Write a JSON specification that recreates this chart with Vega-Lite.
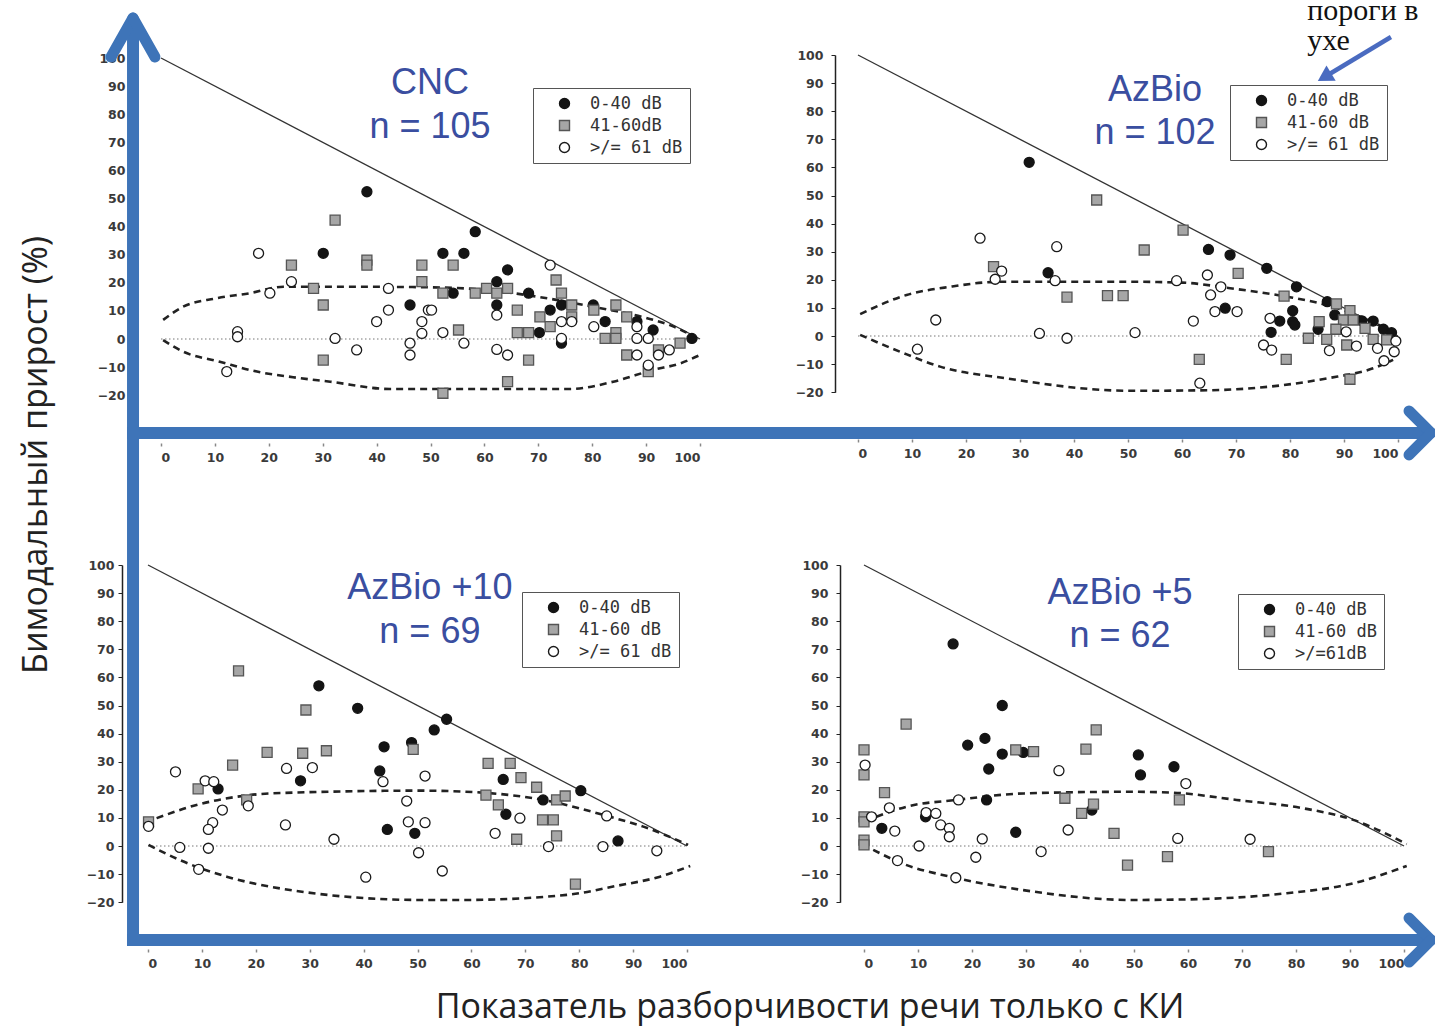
{
"$schema":"https://vega.github.io/schema/vega-lite/v6.json",
"width":1435,"height":1027,"autosize":{"type":"none"},"padding":0,"background":"white",
"config":{"view":{"stroke":null},
"axis":{"labelFont":"DejaVu Sans","labelFontWeight":"bold","labelFontSize":12.5,"labelColor":"#3a3a3a","grid":false,"labelOverlap":false},
"legend":{"padding":7,"strokeColor":"#555","fillColor":"white","symbolOffset":16,"labelOffset":17,"rowPadding":4,"labelFont":"DejaVu Sans Mono","labelFontSize":17,"labelColor":"#333","symbolSize":100,"symbolStrokeWidth":1.4,"cornerRadius":0}},
"datasets":{
"pts":[
{"p":"TL","g":"a","x":38.2,"y":52.4},{"p":"TL","g":"a","x":30.1,"y":30.5},{"p":"TL","g":"a","x":46.2,"y":12.1},{"p":"TL","g":"a","x":58.3,"y":38.2},{"p":"TL","g":"a","x":52.3,"y":30.5},{"p":"TL","g":"a","x":56.2,"y":30.5},{"p":"TL","g":"a","x":64.3,"y":24.6},{"p":"TL","g":"a","x":62.3,"y":20.4},{"p":"TL","g":"a","x":54.2,"y":16.3},{"p":"TL","g":"a","x":68.2,"y":16.3},{"p":"TL","g":"a","x":62.3,"y":12.1},{"p":"TL","g":"a","x":74.3,"y":12.1},{"p":"TL","g":"a","x":72.2,"y":10.3},{"p":"TL","g":"a","x":70.2,"y":2.3},{"p":"TL","g":"a","x":74.3,"y":-1.5},{"p":"TL","g":"a","x":80.2,"y":12.1},{"p":"TL","g":"a","x":82.4,"y":6.2},{"p":"TL","g":"a","x":88.3,"y":6.2},{"p":"TL","g":"a","x":91.3,"y":3.2},{"p":"TL","g":"a","x":98.5,"y":0.2},
{"p":"TL","g":"b","x":32.3,"y":42.3},{"p":"TL","g":"b","x":24.2,"y":26.3},{"p":"TL","g":"b","x":38.2,"y":28.1},{"p":"TL","g":"b","x":38.2,"y":26.3},{"p":"TL","g":"b","x":48.4,"y":26.3},{"p":"TL","g":"b","x":48.4,"y":20.4},{"p":"TL","g":"b","x":28.3,"y":18},{"p":"TL","g":"b","x":30.1,"y":12.1},{"p":"TL","g":"b","x":30.1,"y":-7.5},{"p":"TL","g":"b","x":54.2,"y":26.3},{"p":"TL","g":"b","x":60.4,"y":18},{"p":"TL","g":"b","x":62.3,"y":16.3},{"p":"TL","g":"b","x":64.3,"y":18},{"p":"TL","g":"b","x":58.3,"y":16.3},{"p":"TL","g":"b","x":52.3,"y":16.3},{"p":"TL","g":"b","x":66.1,"y":10.3},{"p":"TL","g":"b","x":73.3,"y":21},{"p":"TL","g":"b","x":74.3,"y":16.3},{"p":"TL","g":"b","x":76.2,"y":12.1},{"p":"TL","g":"b","x":70.3,"y":7.9},{"p":"TL","g":"b","x":76.2,"y":7.9},{"p":"TL","g":"b","x":72.2,"y":4.4},{"p":"TL","g":"b","x":66.1,"y":2.3},{"p":"TL","g":"b","x":68.2,"y":2.3},{"p":"TL","g":"b","x":55.2,"y":3.2},{"p":"TL","g":"b","x":68.2,"y":-7.5},{"p":"TL","g":"b","x":64.3,"y":-15.2},{"p":"TL","g":"b","x":52.3,"y":-19.3},{"p":"TL","g":"b","x":80.3,"y":10.3},{"p":"TL","g":"b","x":84.4,"y":12.1},{"p":"TL","g":"b","x":86.4,"y":7.9},{"p":"TL","g":"b","x":84.4,"y":2.3},{"p":"TL","g":"b","x":82.4,"y":0.2},{"p":"TL","g":"b","x":84.4,"y":0.2},{"p":"TL","g":"b","x":86.4,"y":-5.7},{"p":"TL","g":"b","x":92.3,"y":-3.9},{"p":"TL","g":"b","x":96.3,"y":-1.5},{"p":"TL","g":"b","x":90.4,"y":-11.6},
{"p":"TL","g":"c","x":18.1,"y":30.5},{"p":"TL","g":"c","x":24.2,"y":20.4},{"p":"TL","g":"c","x":20.2,"y":16.3},{"p":"TL","g":"c","x":42.2,"y":18},{"p":"TL","g":"c","x":42.2,"y":10.3},{"p":"TL","g":"c","x":40,"y":6.2},{"p":"TL","g":"c","x":49.6,"y":10.3},{"p":"TL","g":"c","x":48.4,"y":6.2},{"p":"TL","g":"c","x":48.4,"y":2},{"p":"TL","g":"c","x":46.2,"y":-1.5},{"p":"TL","g":"c","x":46.2,"y":-5.7},{"p":"TL","g":"c","x":14.2,"y":2.6},{"p":"TL","g":"c","x":14.2,"y":0.8},{"p":"TL","g":"c","x":32.3,"y":0.2},{"p":"TL","g":"c","x":36.3,"y":-3.9},{"p":"TL","g":"c","x":12.2,"y":-11.6},{"p":"TL","g":"c","x":72.2,"y":26.3},{"p":"TL","g":"c","x":62.3,"y":8.5},{"p":"TL","g":"c","x":74.3,"y":6.2},{"p":"TL","g":"c","x":76.2,"y":6.2},{"p":"TL","g":"c","x":74.3,"y":0.2},{"p":"TL","g":"c","x":50.2,"y":10.3},{"p":"TL","g":"c","x":52.3,"y":2.3},{"p":"TL","g":"c","x":56.2,"y":-1.5},{"p":"TL","g":"c","x":62.3,"y":-3.7},{"p":"TL","g":"c","x":64.3,"y":-5.7},{"p":"TL","g":"c","x":80.3,"y":4.4},{"p":"TL","g":"c","x":88.3,"y":4.4},{"p":"TL","g":"c","x":88.3,"y":0.2},{"p":"TL","g":"c","x":90.4,"y":0.2},{"p":"TL","g":"c","x":88.3,"y":-5.7},{"p":"TL","g":"c","x":92.3,"y":-5.7},{"p":"TL","g":"c","x":94.3,"y":-3.9},{"p":"TL","g":"c","x":90.4,"y":-9.3},
{"p":"TR","g":"a","x":31.7,"y":61.8},{"p":"TR","g":"a","x":35.2,"y":22.5},{"p":"TR","g":"a","x":64.9,"y":30.8},{"p":"TR","g":"a","x":68.9,"y":28.8},{"p":"TR","g":"a","x":75.7,"y":24.1},{"p":"TR","g":"a","x":81.2,"y":17.5},{"p":"TR","g":"a","x":68,"y":9.9},{"p":"TR","g":"a","x":80.5,"y":9},{"p":"TR","g":"a","x":80.5,"y":5.1},{"p":"TR","g":"a","x":78.1,"y":5.3},{"p":"TR","g":"a","x":80.9,"y":3.9},{"p":"TR","g":"a","x":76.5,"y":1.3},{"p":"TR","g":"a","x":86.9,"y":12.2},{"p":"TR","g":"a","x":88.3,"y":7.5},{"p":"TR","g":"a","x":93.3,"y":5.4},{"p":"TR","g":"a","x":95.4,"y":5.3},{"p":"TR","g":"a","x":85.2,"y":2.4},{"p":"TR","g":"a","x":97.3,"y":2.4},{"p":"TR","g":"a","x":98.8,"y":1.2},
{"p":"TR","g":"b","x":44.2,"y":48.4},{"p":"TR","g":"b","x":25.1,"y":24.7},{"p":"TR","g":"b","x":38.7,"y":13.8},{"p":"TR","g":"b","x":46.2,"y":14.4},{"p":"TR","g":"b","x":49.1,"y":14.4},{"p":"TR","g":"b","x":60.2,"y":37.7},{"p":"TR","g":"b","x":53,"y":30.6},{"p":"TR","g":"b","x":70.4,"y":22.3},{"p":"TR","g":"b","x":78.9,"y":14.2},{"p":"TR","g":"b","x":63.2,"y":-8.3},{"p":"TR","g":"b","x":79.3,"y":-8.3},{"p":"TR","g":"b","x":91.1,"y":-15.4},{"p":"TR","g":"b","x":88.6,"y":11.4},{"p":"TR","g":"b","x":91.1,"y":9},{"p":"TR","g":"b","x":89.9,"y":5.7},{"p":"TR","g":"b","x":91.7,"y":5.7},{"p":"TR","g":"b","x":85.4,"y":5.1},{"p":"TR","g":"b","x":88.5,"y":2.4},{"p":"TR","g":"b","x":93.9,"y":2.7},{"p":"TR","g":"b","x":83.4,"y":-0.8},{"p":"TR","g":"b","x":86.8,"y":-1.2},{"p":"TR","g":"b","x":95.4,"y":-1.2},{"p":"TR","g":"b","x":97.9,"y":-1.4},{"p":"TR","g":"b","x":90.5,"y":-3.2},
{"p":"TR","g":"c","x":22.6,"y":34.8},{"p":"TR","g":"c","x":36.8,"y":31.8},{"p":"TR","g":"c","x":26.6,"y":23.1},{"p":"TR","g":"c","x":25.4,"y":20.2},{"p":"TR","g":"c","x":36.5,"y":19.7},{"p":"TR","g":"c","x":14.4,"y":5.7},{"p":"TR","g":"c","x":33.6,"y":0.9},{"p":"TR","g":"c","x":38.7,"y":-0.8},{"p":"TR","g":"c","x":11,"y":-4.7},{"p":"TR","g":"c","x":64.7,"y":21.7},{"p":"TR","g":"c","x":59,"y":19.7},{"p":"TR","g":"c","x":67.2,"y":17.5},{"p":"TR","g":"c","x":65.3,"y":14.6},{"p":"TR","g":"c","x":66.1,"y":8.7},{"p":"TR","g":"c","x":70.2,"y":8.7},{"p":"TR","g":"c","x":62.1,"y":5.3},{"p":"TR","g":"c","x":76.3,"y":6.3},{"p":"TR","g":"c","x":51.3,"y":1.2},{"p":"TR","g":"c","x":75.1,"y":-3.2},{"p":"TR","g":"c","x":76.6,"y":-5},{"p":"TR","g":"c","x":63.3,"y":-16.8},{"p":"TR","g":"c","x":90.4,"y":1.5},{"p":"TR","g":"c","x":99.6,"y":-1.8},{"p":"TR","g":"c","x":92.3,"y":-3.6},{"p":"TR","g":"c","x":87.3,"y":-5.2},{"p":"TR","g":"c","x":96.2,"y":-4.4},{"p":"TR","g":"c","x":99.3,"y":-5.6},{"p":"TR","g":"c","x":97.4,"y":-8.8},
{"p":"BL","g":"a","x":31.7,"y":57},{"p":"BL","g":"a","x":38.9,"y":49},{"p":"BL","g":"a","x":43.8,"y":35.3},{"p":"BL","g":"a","x":48.9,"y":36.8},{"p":"BL","g":"a","x":13,"y":20.3},{"p":"BL","g":"a","x":28.3,"y":23.2},{"p":"BL","g":"a","x":43,"y":26.7},{"p":"BL","g":"a","x":44.4,"y":5.9},{"p":"BL","g":"a","x":49.5,"y":4.5},{"p":"BL","g":"a","x":55.4,"y":45.1},{"p":"BL","g":"a","x":53.1,"y":41.3},{"p":"BL","g":"a","x":65.9,"y":23.7},{"p":"BL","g":"a","x":73.3,"y":16.4},{"p":"BL","g":"a","x":80.3,"y":19.7},{"p":"BL","g":"a","x":66.4,"y":11.3},{"p":"BL","g":"a","x":87.2,"y":1.8},
{"p":"BL","g":"b","x":16.8,"y":62.3},{"p":"BL","g":"b","x":29.3,"y":48.4},{"p":"BL","g":"b","x":22.1,"y":33.3},{"p":"BL","g":"b","x":28.7,"y":33},{"p":"BL","g":"b","x":33.1,"y":33.9},{"p":"BL","g":"b","x":49.2,"y":34.4},{"p":"BL","g":"b","x":15.7,"y":28.8},{"p":"BL","g":"b","x":9.3,"y":20.3},{"p":"BL","g":"b","x":18.3,"y":16.4},{"p":"BL","g":"b","x":0.1,"y":8.6},{"p":"BL","g":"b","x":63.1,"y":29.4},{"p":"BL","g":"b","x":67.2,"y":29.4},{"p":"BL","g":"b","x":69.2,"y":24.3},{"p":"BL","g":"b","x":72.1,"y":20.9},{"p":"BL","g":"b","x":62.7,"y":18.1},{"p":"BL","g":"b","x":75.8,"y":16.4},{"p":"BL","g":"b","x":77.4,"y":17.8},{"p":"BL","g":"b","x":65,"y":14.6},{"p":"BL","g":"b","x":73.2,"y":9.3},{"p":"BL","g":"b","x":75.2,"y":9.3},{"p":"BL","g":"b","x":68.4,"y":2.4},{"p":"BL","g":"b","x":75.8,"y":3.6},{"p":"BL","g":"b","x":79.3,"y":-13.6},
{"p":"BL","g":"c","x":5.1,"y":26.4},{"p":"BL","g":"c","x":10.6,"y":23.2},{"p":"BL","g":"c","x":12.2,"y":22.9},{"p":"BL","g":"c","x":25.7,"y":27.6},{"p":"BL","g":"c","x":30.5,"y":27.9},{"p":"BL","g":"c","x":43.6,"y":22.9},{"p":"BL","g":"c","x":18.6,"y":14.3},{"p":"BL","g":"c","x":13.8,"y":12.8},{"p":"BL","g":"c","x":12,"y":8.3},{"p":"BL","g":"c","x":11.2,"y":5.9},{"p":"BL","g":"c","x":0.1,"y":7},{"p":"BL","g":"c","x":25.5,"y":7.5},{"p":"BL","g":"c","x":34.5,"y":2.4},{"p":"BL","g":"c","x":48,"y":16},{"p":"BL","g":"c","x":48.3,"y":8.6},{"p":"BL","g":"c","x":5.9,"y":-0.5},{"p":"BL","g":"c","x":11.2,"y":-0.8},{"p":"BL","g":"c","x":9.4,"y":-8.3},{"p":"BL","g":"c","x":40.4,"y":-11.1},{"p":"BL","g":"c","x":50.2,"y":-2.4},{"p":"BL","g":"c","x":51.4,"y":24.9},{"p":"BL","g":"c","x":69,"y":9.9},{"p":"BL","g":"c","x":85.1,"y":10.7},{"p":"BL","g":"c","x":64.4,"y":4.5},{"p":"BL","g":"c","x":74.3,"y":-0.2},{"p":"BL","g":"c","x":84.4,"y":-0.2},{"p":"BL","g":"c","x":94.4,"y":-1.7},{"p":"BL","g":"c","x":51.4,"y":8.3},{"p":"BL","g":"c","x":54.6,"y":-8.9},
{"p":"BR","g":"a","x":16.5,"y":71.9},{"p":"BR","g":"a","x":25.6,"y":50},{"p":"BR","g":"a","x":19.2,"y":35.9},{"p":"BR","g":"a","x":22.4,"y":38.3},{"p":"BR","g":"a","x":25.6,"y":32.7},{"p":"BR","g":"a","x":29.5,"y":33.3},{"p":"BR","g":"a","x":23.1,"y":27.4},{"p":"BR","g":"a","x":22.7,"y":16.4},{"p":"BR","g":"a","x":42.2,"y":12.8},{"p":"BR","g":"a","x":11.4,"y":10.4},{"p":"BR","g":"a","x":3.3,"y":6.3},{"p":"BR","g":"a","x":28.1,"y":4.9},{"p":"BR","g":"a","x":50.8,"y":32.4},{"p":"BR","g":"a","x":51.2,"y":25.3},{"p":"BR","g":"a","x":57.4,"y":28.2},
{"p":"BR","g":"b","x":7.8,"y":43.4},{"p":"BR","g":"b","x":28.1,"y":34.2},{"p":"BR","g":"b","x":31.4,"y":33.6},{"p":"BR","g":"b","x":43,"y":41.3},{"p":"BR","g":"b","x":41.1,"y":34.5},{"p":"BR","g":"b","x":0,"y":34.2},{"p":"BR","g":"b","x":0,"y":25.3},{"p":"BR","g":"b","x":3.8,"y":19},{"p":"BR","g":"b","x":37.2,"y":17},{"p":"BR","g":"b","x":42.5,"y":14.9},{"p":"BR","g":"b","x":40.3,"y":11.6},{"p":"BR","g":"b","x":0,"y":10.4},{"p":"BR","g":"b","x":0,"y":8.6},{"p":"BR","g":"b","x":0,"y":2.1},{"p":"BR","g":"b","x":0,"y":0.4},{"p":"BR","g":"b","x":46.3,"y":4.5},{"p":"BR","g":"b","x":48.8,"y":-6.8},{"p":"BR","g":"b","x":58.4,"y":16.4},{"p":"BR","g":"b","x":74.9,"y":-2},{"p":"BR","g":"b","x":56.2,"y":-3.8},
{"p":"BR","g":"c","x":36.1,"y":26.8},{"p":"BR","g":"c","x":0.2,"y":28.8},{"p":"BR","g":"c","x":17.5,"y":16.4},{"p":"BR","g":"c","x":4.7,"y":13.6},{"p":"BR","g":"c","x":1.4,"y":10.4},{"p":"BR","g":"c","x":11.5,"y":11.9},{"p":"BR","g":"c","x":13.3,"y":11.6},{"p":"BR","g":"c","x":14.2,"y":7.5},{"p":"BR","g":"c","x":15.8,"y":6.3},{"p":"BR","g":"c","x":15.8,"y":3.3},{"p":"BR","g":"c","x":5.7,"y":5.3},{"p":"BR","g":"c","x":10.2,"y":0},{"p":"BR","g":"c","x":21.9,"y":2.5},{"p":"BR","g":"c","x":37.8,"y":5.7},{"p":"BR","g":"c","x":20.7,"y":-4},{"p":"BR","g":"c","x":32.8,"y":-2},{"p":"BR","g":"c","x":6.2,"y":-5.2},{"p":"BR","g":"c","x":17,"y":-11.3},{"p":"BR","g":"c","x":59.6,"y":22.2},{"p":"BR","g":"c","x":58.1,"y":2.7},{"p":"BR","g":"c","x":71.5,"y":2.4}
],
"curves":[
{"p":"TL","part":"u","x":0.4,"y":6.8},{"p":"TL","part":"u","x":4.1,"y":11.5},{"p":"TL","part":"u","x":10.3,"y":14.5},{"p":"TL","part":"u","x":16.5,"y":16.3},{"p":"TL","part":"u","x":22.7,"y":18.6},{"p":"TL","part":"u","x":35,"y":18.6},{"p":"TL","part":"u","x":50,"y":18.4},{"p":"TL","part":"u","x":60,"y":17.5},{"p":"TL","part":"u","x":70,"y":15},{"p":"TL","part":"u","x":80,"y":11.5},{"p":"TL","part":"u","x":90,"y":7.5},{"p":"TL","part":"u","x":95,"y":4.5},{"p":"TL","part":"u","x":99,"y":0.8},
{"p":"TL","part":"l","x":0.4,"y":-0.4},{"p":"TL","part":"l","x":4.1,"y":-4.5},{"p":"TL","part":"l","x":10.9,"y":-8.1},{"p":"TL","part":"l","x":17.8,"y":-11.6},{"p":"TL","part":"l","x":24.5,"y":-13.6},{"p":"TL","part":"l","x":31.4,"y":-15.2},{"p":"TL","part":"l","x":42.5,"y":-17.8},{"p":"TL","part":"l","x":60,"y":-17.8},{"p":"TL","part":"l","x":75.9,"y":-17.8},{"p":"TL","part":"l","x":83.9,"y":-15.2},{"p":"TL","part":"l","x":91.3,"y":-11},{"p":"TL","part":"l","x":96.3,"y":-8.7},{"p":"TL","part":"l","x":100,"y":-5.7},
{"p":"TR","part":"u","x":0.4,"y":7.8},{"p":"TR","part":"u","x":9,"y":14.6},{"p":"TR","part":"u","x":17,"y":17.5},{"p":"TR","part":"u","x":26.3,"y":19.3},{"p":"TR","part":"u","x":50.4,"y":19.3},{"p":"TR","part":"u","x":60,"y":19},{"p":"TR","part":"u","x":68.9,"y":17},{"p":"TR","part":"u","x":79.4,"y":14},{"p":"TR","part":"u","x":86.8,"y":11},{"p":"TR","part":"u","x":93,"y":6.9},{"p":"TR","part":"u","x":99.1,"y":1.5},
{"p":"TR","part":"l","x":0.4,"y":0.4},{"p":"TR","part":"l","x":7.8,"y":-5.6},{"p":"TR","part":"l","x":15.2,"y":-10.9},{"p":"TR","part":"l","x":27.5,"y":-15.1},{"p":"TR","part":"l","x":50.4,"y":-19.5},{"p":"TR","part":"l","x":65,"y":-19.3},{"p":"TR","part":"l","x":76.3,"y":-18},{"p":"TR","part":"l","x":86.8,"y":-15.1},{"p":"TR","part":"l","x":95.4,"y":-11.5},{"p":"TR","part":"l","x":99.1,"y":-8.5},
{"p":"BL","part":"u","x":1.6,"y":9.9},{"p":"BL","part":"u","x":9,"y":14.6},{"p":"BL","part":"u","x":16.4,"y":17.5},{"p":"BL","part":"u","x":22.6,"y":18.7},{"p":"BL","part":"u","x":50.5,"y":19.7},{"p":"BL","part":"u","x":62,"y":19},{"p":"BL","part":"u","x":73.3,"y":16.4},{"p":"BL","part":"u","x":85.7,"y":10.4},{"p":"BL","part":"u","x":91.9,"y":6.9},{"p":"BL","part":"u","x":100.2,"y":0.4},
{"p":"BL","part":"l","x":0.1,"y":0.4},{"p":"BL","part":"l","x":5.9,"y":-5},{"p":"BL","part":"l","x":14.6,"y":-10.9},{"p":"BL","part":"l","x":24.5,"y":-15.1},{"p":"BL","part":"l","x":50.5,"y":-19.2},{"p":"BL","part":"l","x":58.6,"y":-19.2},{"p":"BL","part":"l","x":77.7,"y":-17.4},{"p":"BL","part":"l","x":86.9,"y":-14.2},{"p":"BL","part":"l","x":95,"y":-10.9},{"p":"BL","part":"l","x":100.6,"y":-7.1},
{"p":"BR","part":"u","x":2.3,"y":10.4},{"p":"BR","part":"u","x":7.9,"y":14},{"p":"BR","part":"u","x":17.2,"y":16.4},{"p":"BR","part":"u","x":29.5,"y":18.7},{"p":"BR","part":"u","x":49.3,"y":19.3},{"p":"BR","part":"u","x":57,"y":19},{"p":"BR","part":"u","x":69,"y":16.4},{"p":"BR","part":"u","x":81.4,"y":13.4},{"p":"BR","part":"u","x":90.6,"y":9.3},{"p":"BR","part":"u","x":100.5,"y":0.7},
{"p":"BR","part":"l","x":1.7,"y":-1.4},{"p":"BR","part":"l","x":7.9,"y":-6.8},{"p":"BR","part":"l","x":15.9,"y":-10.9},{"p":"BR","part":"l","x":29.5,"y":-15.7},{"p":"BR","part":"l","x":49.3,"y":-19.2},{"p":"BR","part":"l","x":60,"y":-19},{"p":"BR","part":"l","x":78.3,"y":-16.8},{"p":"BR","part":"l","x":90.6,"y":-13.3},{"p":"BR","part":"l","x":100.5,"y":-7.1}
]
},
"layer":[
{"layer":[
 {"data":{"values":[{}]},"mark":{"type":"rule","strokeDash":[1.5,2.5],"stroke":"#777","strokeWidth":1},"encoding":{"x":{"datum":0,"type":"quantitative","title":null},"x2":{"datum":100},"y":{"datum":0,"type":"quantitative","title":null}}},
 {"data":{"values":[{}]},"mark":{"type":"rule","stroke":"#333","strokeWidth":1.3},"encoding":{"x":{"datum":0,"type":"quantitative","title":null},"x2":{"datum":100},"y":{"datum":100,"type":"quantitative","title":null},"y2":{"datum":0}}},
 {"data":{"name":"curves"},"transform":[{"filter":"datum.p=='TL'"}],"mark":{"type":"line","interpolate":"monotone","strokeDash":[7,5],"stroke":"#222","strokeWidth":2.6},"encoding":{"x":{"field":"x","type":"quantitative","title":null},"y":{"field":"y","type":"quantitative","title":null},"detail":{"field":"part"}}},
 {"data":{"name":"pts"},"transform":[{"filter":"datum.p=='TL'"}],"mark":{"type":"point","filled":true,"size":100,"strokeWidth":1.3,"opacity":1},
  "encoding":{
   "x":{"field":"x","type":"quantitative","title":null,"scale":{"domain":[0,100],"range":[161,700],"nice":false,"zero":false},"axis":{"orient":"bottom","offset":-584,"values":[0,10,20,30,40,50,60,70,80,90,100],"domain":false,"ticks":true,"tickSize":3,"tickColor":"#888","tickWidth":1.5,"labelPadding":5}},
   "y":{"field":"y","type":"quantitative","title":null,"scale":{"domain":[-20,100],"range":[395.2,58],"nice":false,"zero":false},"axis":{"orient":"left","offset":-131,"values":[-20,-10,0,10,20,30,40,50,60,70,80,90,100],"domain":false,"ticks":false,"labelPadding":6}},
   "shape":{"field":"g","type":"nominal","scale":{"domain":["a","b","c"],"range":["circle","square","circle"]},"legend":{"orient":"none","legendX":533,"legendY":88,"title":null,"labelExpr":"datum.label=='a'?'0-40 dB':datum.label=='b'?'41-60dB':'>/= 61 dB\u00a0\u00a0\u00a0\u00a0'"}},
   "fill":{"field":"g","type":"nominal","scale":{"domain":["a","b","c"],"range":["#141414","#a6a6a6","#ffffff"]},"legend":{"orient":"none","legendX":533,"legendY":88,"title":null,"labelExpr":"datum.label=='a'?'0-40 dB':datum.label=='b'?'41-60dB':'>/= 61 dB\u00a0\u00a0\u00a0\u00a0'"}},
   "stroke":{"field":"g","type":"nominal","scale":{"domain":["a","b","c"],"range":["#141414","#555555","#1a1a1a"]},"legend":{"orient":"none","legendX":533,"legendY":88,"title":null,"labelExpr":"datum.label=='a'?'0-40 dB':datum.label=='b'?'41-60dB':'>/= 61 dB\u00a0\u00a0\u00a0\u00a0'"}}}},
 {"data":{"values":[{}]},"mark":{"type":"text","text":"CNC","font":"Liberation Sans","fontSize":36,"fill":"#3a4ea0","align":"center","baseline":"middle"},"encoding":{"x":{"datum":49.9,"type":"quantitative","title":null},"y":{"datum":91.1,"type":"quantitative","title":null}}},
 {"data":{"values":[{}]},"mark":{"type":"text","text":"n = 105","font":"Liberation Sans","fontSize":36,"fill":"#3a4ea0","align":"center","baseline":"middle"},"encoding":{"x":{"datum":49.9,"type":"quantitative","title":null},"y":{"datum":75.4,"type":"quantitative","title":null}}}
]},
{"layer":[
 {"data":{"values":[{}]},"mark":{"type":"rule","strokeDash":[1.5,2.5],"stroke":"#777","strokeWidth":1},"encoding":{"x":{"datum":0,"type":"quantitative","title":null},"x2":{"datum":100},"y":{"datum":0,"type":"quantitative","title":null}}},
 {"data":{"values":[{}]},"mark":{"type":"rule","stroke":"#333","strokeWidth":1.3},"encoding":{"x":{"datum":0,"type":"quantitative","title":null},"x2":{"datum":100},"y":{"datum":100,"type":"quantitative","title":null},"y2":{"datum":0}}},
 {"data":{"name":"curves"},"transform":[{"filter":"datum.p=='TR'"}],"mark":{"type":"line","interpolate":"monotone","strokeDash":[7,5],"stroke":"#222","strokeWidth":2.6},"encoding":{"x":{"field":"x","type":"quantitative","title":null},"y":{"field":"y","type":"quantitative","title":null},"detail":{"field":"part"}}},
 {"data":{"name":"pts"},"transform":[{"filter":"datum.p=='TR'"}],"mark":{"type":"point","filled":true,"size":100,"strokeWidth":1.3,"opacity":1},
  "encoding":{
   "x":{"field":"x","type":"quantitative","title":null,"scale":{"domain":[0,100],"range":[858,1398],"nice":false,"zero":false},"axis":{"orient":"bottom","offset":-588,"values":[0,10,20,30,40,50,60,70,80,90,100],"domain":false,"ticks":true,"tickSize":3,"tickColor":"#888","tickWidth":1.5,"labelPadding":5}},
   "y":{"field":"y","type":"quantitative","title":null,"scale":{"domain":[-20,100],"range":[392.2,55],"nice":false,"zero":false},"axis":{"orient":"left","offset":-835,"values":[-20,-10,0,10,20,30,40,50,60,70,80,90,100],"domain":true,"domainColor":"#222","domainWidth":1.5,"ticks":true,"tickSize":4,"tickColor":"#222","labelPadding":8}},
   "shape":{"field":"g","type":"nominal","scale":{"domain":["a","b","c"],"range":["circle","square","circle"]},"legend":{"orient":"none","legendX":1230,"legendY":85,"title":null,"labelExpr":"datum.label=='a'?'0-40 dB':datum.label=='b'?'41-60 dB':'>/= 61 dB\u00a0\u00a0\u00a0\u00a0'"}},
   "fill":{"field":"g","type":"nominal","scale":{"domain":["a","b","c"],"range":["#141414","#a6a6a6","#ffffff"]},"legend":{"orient":"none","legendX":1230,"legendY":85,"title":null,"labelExpr":"datum.label=='a'?'0-40 dB':datum.label=='b'?'41-60 dB':'>/= 61 dB\u00a0\u00a0\u00a0\u00a0'"}},
   "stroke":{"field":"g","type":"nominal","scale":{"domain":["a","b","c"],"range":["#141414","#555555","#1a1a1a"]},"legend":{"orient":"none","legendX":1230,"legendY":85,"title":null,"labelExpr":"datum.label=='a'?'0-40 dB':datum.label=='b'?'41-60 dB':'>/= 61 dB\u00a0\u00a0\u00a0\u00a0'"}}}},
 {"data":{"values":[{}]},"mark":{"type":"text","text":"AzBio","font":"Liberation Sans","fontSize":36,"fill":"#3a4ea0","align":"center","baseline":"middle"},"encoding":{"x":{"datum":55,"type":"quantitative","title":null},"y":{"datum":87.5,"type":"quantitative","title":null}}},
 {"data":{"values":[{}]},"mark":{"type":"text","text":"n = 102","font":"Liberation Sans","fontSize":36,"fill":"#3a4ea0","align":"center","baseline":"middle"},"encoding":{"x":{"datum":55,"type":"quantitative","title":null},"y":{"datum":72.2,"type":"quantitative","title":null}}}
]},
{"layer":[
 {"data":{"values":[{}]},"mark":{"type":"rule","strokeDash":[1.5,2.5],"stroke":"#777","strokeWidth":1},"encoding":{"x":{"datum":0,"type":"quantitative","title":null},"x2":{"datum":100},"y":{"datum":0,"type":"quantitative","title":null}}},
 {"data":{"values":[{}]},"mark":{"type":"rule","stroke":"#333","strokeWidth":1.3},"encoding":{"x":{"datum":0,"type":"quantitative","title":null},"x2":{"datum":100},"y":{"datum":100,"type":"quantitative","title":null},"y2":{"datum":0}}},
 {"data":{"name":"curves"},"transform":[{"filter":"datum.p=='BL'"}],"mark":{"type":"line","interpolate":"monotone","strokeDash":[7,5],"stroke":"#222","strokeWidth":2.6},"encoding":{"x":{"field":"x","type":"quantitative","title":null},"y":{"field":"y","type":"quantitative","title":null},"detail":{"field":"part"}}},
 {"data":{"name":"pts"},"transform":[{"filter":"datum.p=='BL'"}],"mark":{"type":"point","filled":true,"size":100,"strokeWidth":1.3,"opacity":1},
  "encoding":{
   "x":{"field":"x","type":"quantitative","title":null,"scale":{"domain":[0,100],"range":[148,687],"nice":false,"zero":false},"axis":{"orient":"bottom","offset":-78,"values":[0,10,20,30,40,50,60,70,80,90,100],"domain":false,"ticks":true,"tickSize":3,"tickColor":"#888","tickWidth":1.5,"labelPadding":5}},
   "y":{"field":"y","type":"quantitative","title":null,"scale":{"domain":[-20,100],"range":[902.2,565],"nice":false,"zero":false},"axis":{"orient":"left","offset":-122,"values":[-20,-10,0,10,20,30,40,50,60,70,80,90,100],"domain":true,"domainColor":"#222","domainWidth":1.5,"ticks":true,"tickSize":4,"tickColor":"#222","labelPadding":4}},
   "shape":{"field":"g","type":"nominal","scale":{"domain":["a","b","c"],"range":["circle","square","circle"]},"legend":{"orient":"none","legendX":522,"legendY":592,"title":null,"labelExpr":"datum.label=='a'?'0-40 dB':datum.label=='b'?'41-60 dB':'>/= 61 dB\u00a0\u00a0\u00a0'"}},
   "fill":{"field":"g","type":"nominal","scale":{"domain":["a","b","c"],"range":["#141414","#a6a6a6","#ffffff"]},"legend":{"orient":"none","legendX":522,"legendY":592,"title":null,"labelExpr":"datum.label=='a'?'0-40 dB':datum.label=='b'?'41-60 dB':'>/= 61 dB\u00a0\u00a0\u00a0'"}},
   "stroke":{"field":"g","type":"nominal","scale":{"domain":["a","b","c"],"range":["#141414","#555555","#1a1a1a"]},"legend":{"orient":"none","legendX":522,"legendY":592,"title":null,"labelExpr":"datum.label=='a'?'0-40 dB':datum.label=='b'?'41-60 dB':'>/= 61 dB\u00a0\u00a0\u00a0'"}}}},
 {"data":{"values":[{}]},"mark":{"type":"text","text":"AzBio +10","font":"Liberation Sans","fontSize":36,"fill":"#3a4ea0","align":"center","baseline":"middle"},"encoding":{"x":{"datum":52.3,"type":"quantitative","title":null},"y":{"datum":91.8,"type":"quantitative","title":null}}},
 {"data":{"values":[{}]},"mark":{"type":"text","text":"n = 69","font":"Liberation Sans","fontSize":36,"fill":"#3a4ea0","align":"center","baseline":"middle"},"encoding":{"x":{"datum":52.3,"type":"quantitative","title":null},"y":{"datum":76.2,"type":"quantitative","title":null}}}
]},
{"layer":[
 {"data":{"values":[{}]},"mark":{"type":"rule","strokeDash":[1.5,2.5],"stroke":"#777","strokeWidth":1},"encoding":{"x":{"datum":0,"type":"quantitative","title":null},"x2":{"datum":100},"y":{"datum":0,"type":"quantitative","title":null}}},
 {"data":{"values":[{}]},"mark":{"type":"rule","stroke":"#333","strokeWidth":1.3},"encoding":{"x":{"datum":0,"type":"quantitative","title":null},"x2":{"datum":100},"y":{"datum":100,"type":"quantitative","title":null},"y2":{"datum":0}}},
 {"data":{"name":"curves"},"transform":[{"filter":"datum.p=='BR'"}],"mark":{"type":"line","interpolate":"monotone","strokeDash":[7,5],"stroke":"#222","strokeWidth":2.6},"encoding":{"x":{"field":"x","type":"quantitative","title":null},"y":{"field":"y","type":"quantitative","title":null},"detail":{"field":"part"}}},
 {"data":{"name":"pts"},"transform":[{"filter":"datum.p=='BR'"}],"mark":{"type":"point","filled":true,"size":100,"strokeWidth":1.3,"opacity":1},
  "encoding":{
   "x":{"field":"x","type":"quantitative","title":null,"scale":{"domain":[0,100],"range":[864,1404],"nice":false,"zero":false},"axis":{"orient":"bottom","offset":-78,"values":[0,10,20,30,40,50,60,70,80,90,100],"domain":false,"ticks":true,"tickSize":3,"tickColor":"#888","tickWidth":1.5,"labelPadding":5}},
   "y":{"field":"y","type":"quantitative","title":null,"scale":{"domain":[-20,100],"range":[902.2,565],"nice":false,"zero":false},"axis":{"orient":"left","offset":-840,"values":[-20,-10,0,10,20,30,40,50,60,70,80,90,100],"domain":true,"domainColor":"#222","domainWidth":1.5,"ticks":true,"tickSize":4,"tickColor":"#222","labelPadding":8}},
   "shape":{"field":"g","type":"nominal","scale":{"domain":["a","b","c"],"range":["circle","square","circle"]},"legend":{"orient":"none","legendX":1238,"legendY":594,"title":null,"labelExpr":"datum.label=='a'?'0-40 dB':datum.label=='b'?'41-60 dB':'>/=61dB\u00a0\u00a0\u00a0\u00a0\u00a0\u00a0\u00a0'"}},
   "fill":{"field":"g","type":"nominal","scale":{"domain":["a","b","c"],"range":["#141414","#a6a6a6","#ffffff"]},"legend":{"orient":"none","legendX":1238,"legendY":594,"title":null,"labelExpr":"datum.label=='a'?'0-40 dB':datum.label=='b'?'41-60 dB':'>/=61dB\u00a0\u00a0\u00a0\u00a0\u00a0\u00a0\u00a0'"}},
   "stroke":{"field":"g","type":"nominal","scale":{"domain":["a","b","c"],"range":["#141414","#555555","#1a1a1a"]},"legend":{"orient":"none","legendX":1238,"legendY":594,"title":null,"labelExpr":"datum.label=='a'?'0-40 dB':datum.label=='b'?'41-60 dB':'>/=61dB\u00a0\u00a0\u00a0\u00a0\u00a0\u00a0\u00a0'"}}}},
 {"data":{"values":[{}]},"mark":{"type":"text","text":"AzBio +5","font":"Liberation Sans","fontSize":36,"fill":"#3a4ea0","align":"center","baseline":"middle"},"encoding":{"x":{"datum":47.4,"type":"quantitative","title":null},"y":{"datum":90,"type":"quantitative","title":null}}},
 {"data":{"values":[{}]},"mark":{"type":"text","text":"n = 62","font":"Liberation Sans","fontSize":36,"fill":"#3a4ea0","align":"center","baseline":"middle"},"encoding":{"x":{"datum":47.4,"type":"quantitative","title":null},"y":{"datum":74.7,"type":"quantitative","title":null}}}
]},
{"data":{"values":[{}]},"layer":[
 {"mark":{"type":"rule","stroke":"#3e74b8","strokeWidth":12},"encoding":{"x":{"datum":9.27,"type":"quantitative","scale":{"domain":[0,100],"range":[0,1435],"nice":false,"zero":false},"axis":null},"y":{"datum":7.89,"type":"quantitative","scale":{"domain":[0,100],"range":[1027,0],"nice":false,"zero":false},"axis":null},"y2":{"datum":97.56}}},
 {"mark":{"type":"rule","stroke":"#3e74b8","strokeWidth":12},"encoding":{"x":{"datum":8.85,"type":"quantitative","axis":null},"x2":{"datum":99.44},"y":{"datum":57.84,"type":"quantitative","axis":null}}},
 {"mark":{"type":"rule","stroke":"#3e74b8","strokeWidth":12},"encoding":{"x":{"datum":8.85,"type":"quantitative","axis":null},"x2":{"datum":99.44},"y":{"datum":8.47,"type":"quantitative","axis":null}}},
 {"mark":{"type":"rule","stroke":"#3e74b8","strokeWidth":11,"strokeCap":"round"},"encoding":{"x":{"datum":9.268,"type":"quantitative","axis":null},"y":{"datum":98.25,"type":"quantitative","axis":null},"x2":{"datum":7.735},"y2":{"datum":94.45}}},
 {"mark":{"type":"rule","stroke":"#3e74b8","strokeWidth":11,"strokeCap":"round"},"encoding":{"x":{"datum":9.268,"type":"quantitative","axis":null},"y":{"datum":98.25,"type":"quantitative","axis":null},"x2":{"datum":10.8},"y2":{"datum":94.45}}},
 {"mark":{"type":"rule","stroke":"#3e74b8","strokeWidth":11,"strokeCap":"round"},"encoding":{"x":{"datum":99.72,"type":"quantitative","axis":null},"y":{"datum":57.84,"type":"quantitative","axis":null},"x2":{"datum":98.19},"y2":{"datum":59.98}}},
 {"mark":{"type":"rule","stroke":"#3e74b8","strokeWidth":11,"strokeCap":"round"},"encoding":{"x":{"datum":99.72,"type":"quantitative","axis":null},"y":{"datum":57.84,"type":"quantitative","axis":null},"x2":{"datum":98.19},"y2":{"datum":55.7}}},
 {"mark":{"type":"rule","stroke":"#3e74b8","strokeWidth":11,"strokeCap":"round"},"encoding":{"x":{"datum":99.72,"type":"quantitative","axis":null},"y":{"datum":8.47,"type":"quantitative","axis":null},"x2":{"datum":98.19},"y2":{"datum":10.61}}},
 {"mark":{"type":"rule","stroke":"#3e74b8","strokeWidth":11,"strokeCap":"round"},"encoding":{"x":{"datum":99.72,"type":"quantitative","axis":null},"y":{"datum":8.47,"type":"quantitative","axis":null},"x2":{"datum":98.19},"y2":{"datum":6.33}}},
 {"mark":{"type":"rule","stroke":"#4a6bc0","strokeWidth":4.5},"encoding":{"x":{"datum":96.93,"type":"quantitative","axis":null},"y":{"datum":96.4,"type":"quantitative","axis":null},"x2":{"datum":92.45},"y2":{"datum":92.62}}},
 {"mark":{"type":"point","shape":"triangle","angle":239,"size":320,"filled":true,"fill":"#4a6bc0","opacity":1},"encoding":{"x":{"datum":92.45,"type":"quantitative","axis":null},"y":{"datum":92.62,"type":"quantitative","axis":null}}},
 {"mark":{"type":"text","text":"пороги в","font":"Liberation Serif","fontSize":30,"fill":"#111","align":"left","baseline":"alphabetic"},"encoding":{"x":{"datum":91.1,"type":"quantitative","axis":null},"y":{"datum":98.1,"type":"quantitative","axis":null}}},
 {"mark":{"type":"text","text":"ухе","font":"Liberation Serif","fontSize":30,"fill":"#111","align":"left","baseline":"alphabetic"},"encoding":{"x":{"datum":91.1,"type":"quantitative","axis":null},"y":{"datum":95.13,"type":"quantitative","axis":null}}},
 {"mark":{"type":"text","text":"Бимодальный прирост (%)","font":"Open Sans","fontSize":34,"fill":"#222","align":"center","baseline":"middle","angle":270},"encoding":{"x":{"datum":2.58,"type":"quantitative","axis":null},"y":{"datum":55.7,"type":"quantitative","axis":null}}},
 {"mark":{"type":"text","text":"Показатель разборчивости речи только с КИ","font":"Open Sans","fontSize":34,"fill":"#222","align":"center","baseline":"middle"},"encoding":{"x":{"datum":56.45,"type":"quantitative","axis":null},"y":{"datum":1.85,"type":"quantitative","axis":null}}}
]}
],
"resolve":{"scale":{"x":"independent","y":"independent","shape":"independent","fill":"independent","stroke":"independent"},"axis":{"x":"independent","y":"independent"},"legend":{"shape":"independent","fill":"independent","stroke":"independent"}}
}
